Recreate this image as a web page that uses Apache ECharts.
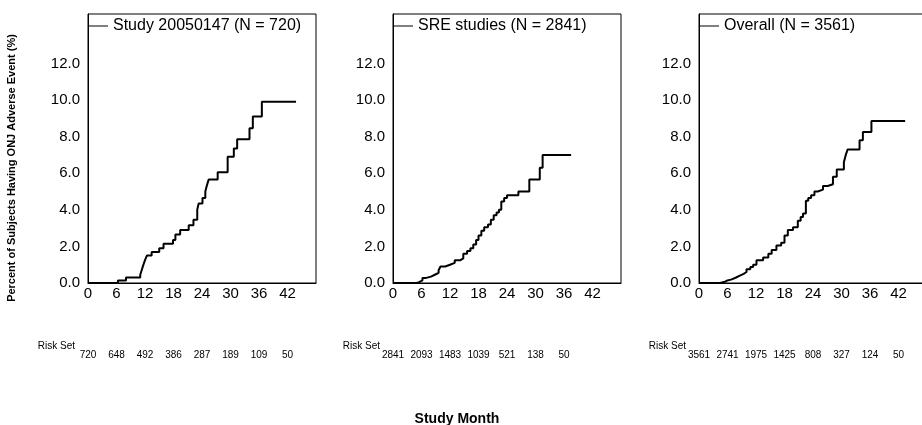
<!DOCTYPE html>
<html>
<head>
<meta charset="utf-8">
<script src="https://cdn.jsdelivr.net/npm/echarts@6/dist/echarts.min.js"></script>
<style>
  html, body { margin: 0; padding: 0; background: #fff; }
  #chart { width: 922px; height: 425px; }
</style>
</head>
<body>
<div id="chart"></div>
<script>
// study month ticks and risk set rows (one per panel)
const monthTicks = [0, 6, 12, 18, 24, 30, 36, 42];
const riskStudy = [720, 648, 492, 386, 287, 189, 109, 50];
const riskSre = [2841, 2093, 1483, 1039, 521, 138, 50];
const riskAll = [3561, 2741, 1975, 1425, 808, 327, 124, 50];

const panelNames = ['Study 20050147 (N = 720)', 'SRE studies (N = 2841)', 'Overall (N = 3561)'];

// cumulative incidence curves (month, percent)
const studyMonths = [0, 6.3, 8.0, 11.0, 11.3, 11.6, 12.0, 12.4, 13.4, 15.0, 15.9, 17.9, 18.4, 19.4, 21.2, 22.2, 23.0, 23.3, 24.1, 24.7, 25.0, 25.4, 27.3, 29.4, 30.7, 31.4, 34.0, 34.7, 36.6, 43.8];
const studyPct = [0, 0.14, 0.3, 0.45, 0.7, 0.95, 1.25, 1.5, 1.7, 1.9, 2.15, 2.35, 2.65, 2.9, 3.15, 3.45, 4.0, 4.35, 4.65, 5.0, 5.3, 5.65, 6.05, 6.9, 7.35, 7.85, 8.45, 9.1, 9.9, 9.9];

const sreMonths = [0, 5.0, 5.5, 6.2, 7.0, 8.0, 8.8, 9.6, 10.0, 11.0, 12.0, 13.0, 14.2, 14.8, 15.6, 16.3, 16.9, 17.5, 18.0, 18.6, 19.2, 20.0, 20.6, 21.2, 21.8, 22.3, 22.8, 23.4, 24.0, 26.4, 28.7, 30.9, 31.5, 37.5];
const srePct = [0, 0.05, 0.15, 0.28, 0.35, 0.45, 0.55, 0.7, 0.9, 1.0, 1.1, 1.25, 1.35, 1.6, 1.75, 1.9, 2.1, 2.35, 2.6, 2.85, 3.05, 3.2, 3.45, 3.7, 3.85, 4.0, 4.45, 4.65, 4.8, 5.0, 5.65, 6.3, 7.0, 7.0];

const allMonths = [0, 4.4, 5.3, 5.8, 6.9, 7.8, 8.6, 9.4, 10.0, 10.8, 11.4, 12.1, 13.5, 14.6, 15.3, 16.3, 17.3, 18.0, 18.7, 19.8, 20.8, 21.4, 21.9, 22.5, 23.0, 23.6, 24.3, 25.0, 26.1, 27.1, 28.2, 29.0, 30.5, 30.9, 31.3, 33.8, 34.5, 36.3, 43.4];
const allPct = [0, 0.05, 0.12, 0.2, 0.3, 0.4, 0.5, 0.6, 0.75, 0.88, 1.0, 1.25, 1.4, 1.6, 1.8, 2.05, 2.2, 2.6, 2.9, 3.05, 3.4, 3.6, 3.8, 4.5, 4.65, 4.8, 5.0, 5.1, 5.3, 5.4, 5.8, 6.2, 6.6, 7.0, 7.3, 7.8, 8.25, 8.85, 8.85];

const yTicks = [0, 2, 4, 6, 8, 10, 12];

const curves = [
  [studyMonths, studyPct],
  [sreMonths, srePct],
  [allMonths, allPct]
];
const risks = [riskStudy, riskSre, riskAll];

const font = "'Liberation Sans', Arial, sans-serif";
const narrow = "'Liberation Sans Narrow', 'Arial Narrow', 'Liberation Sans', sans-serif";
const lefts = [88, 393, 699];
const plotW = 228, plotTop = 14, plotH = 269;

let chart = echarts.init(document.getElementById('chart'));

let grids = [], xAxes = [], yAxes = [], series = [], legends = [], texts = [];
lefts.forEach(function (left, i) {
  grids.push({
    left: left, top: plotTop, width: plotW, height: plotH,
    outerBoundsMode: 'none',
    show: true, borderColor: '#000', borderWidth: 1, backgroundColor: 'transparent'
  });
  // study month axis
  xAxes.push({
    type: 'value', gridIndex: i, min: 0, max: 48, interval: 6,
    axisLine: { show: true, onZero: false, lineStyle: { color: '#000', width: 1 } },
    axisTick: { show: false },
    splitLine: { show: false },
    axisLabel: {
      color: '#000', fontFamily: font, fontSize: 15, margin: 3,
      formatter: function (v) { return monthTicks.indexOf(v) >= 0 ? String(v) : ''; }
    }
  });
  // risk set row, placed under the month axis
  xAxes.push({
    type: 'value', gridIndex: i, min: 0, max: 48, interval: 6,
    position: 'bottom', offset: 64,
    axisLine: { show: false }, axisTick: { show: false }, splitLine: { show: false },
    axisLabel: {
      color: '#000', fontFamily: narrow, fontSize: 10, margin: 3,
      formatter: function (v) {
        let k = monthTicks.indexOf(v);
        return k >= 0 && risks[i][k] !== undefined ? String(risks[i][k]) : '';
      }
    }
  });
  yAxes.push({
    type: 'value', gridIndex: i, min: 0, max: 14.7, interval: 2,
    axisLine: { show: true, lineStyle: { color: '#000', width: 1 } },
    axisTick: { show: false },
    splitLine: { show: false },
    axisLabel: {
      color: '#000', fontFamily: font, fontSize: 15, margin: 8,
      showMaxLabel: false,
      formatter: function (v) { return yTicks.indexOf(v) >= 0 ? v.toFixed(1) : ''; }
    }
  });
  series.push({
    name: panelNames[i],
    type: 'line', step: 'end',
    xAxisIndex: i * 2, yAxisIndex: i,
    symbol: 'none',
    lineStyle: { color: '#000', width: 2 },
    itemStyle: { color: '#000' },
    data: curves[i][0].map(function (m, k) { return [m, curves[i][1][k]]; })
  });
  legends.push({
    data: [{ name: panelNames[i], icon: 'rect' }], left: left + 1, top: 18,
    padding: 0,
    itemWidth: 19, itemHeight: 1, itemGap: 4,
    itemStyle: { color: '#000', borderWidth: 0 },
    textStyle: { color: '#000', fontFamily: font, fontSize: 16 },
    selectedMode: false
  });
  texts.push({
    type: 'text', x: left - 13, y: 346,
    style: {
      text: 'Risk Set', fill: '#000', font: '10px ' + narrow,
      align: 'right', verticalAlign: 'middle'
    }
  });
});

chart.setOption({
  animation: false,
  backgroundColor: '#fff',
  grid: grids,
  xAxis: xAxes,
  yAxis: yAxes,
  legend: legends,
  series: series,
  graphic: texts.concat([
    {
      type: 'text', x: 12, y: 168, rotation: Math.PI / 2,
      style: {
        text: 'Percent of Subjects Having ONJ Adverse Event (%)',
        fill: '#000', font: 'bold 11px ' + font, align: 'center', verticalAlign: 'middle'
      }
    },
    {
      type: 'text', x: 457, y: 419,
      style: {
        text: 'Study Month', fill: '#000', font: 'bold 14px ' + font,
        align: 'center', verticalAlign: 'middle'
      }
    }
  ])
});
</script>
</body>
</html>
